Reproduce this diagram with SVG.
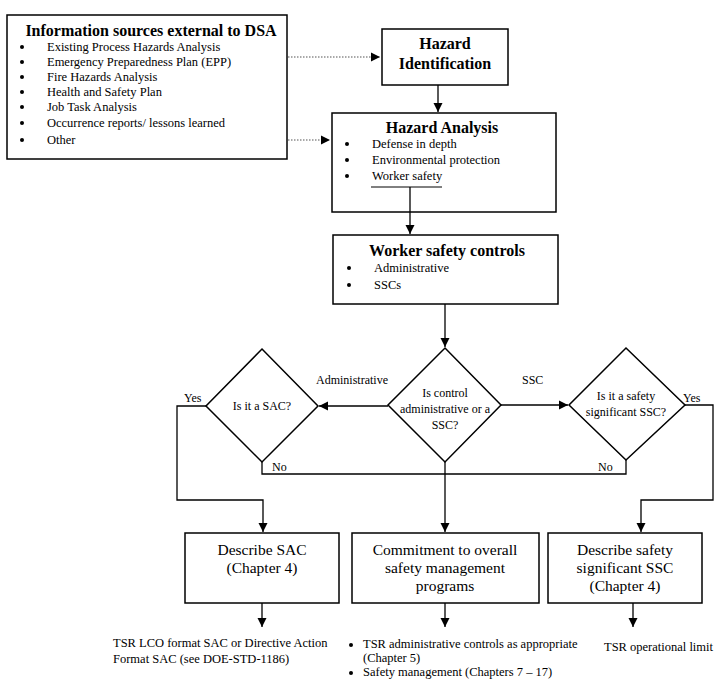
<svg xmlns="http://www.w3.org/2000/svg" width="727" height="681" viewBox="0 0 727 681">
<style>
text{font-family:"Liberation Serif","Times New Roman",serif;fill:#000}
.t{font-size:16px;font-weight:bold}
.b{font-size:12.5px}
.d{font-size:12px}
.m{font-size:15.5px}
.box{fill:#fff;stroke:#000;stroke-width:1.5}
.ln{fill:none;stroke:#000;stroke-width:1.3}
.dot{fill:none;stroke:#555;stroke-width:1.2;stroke-dasharray:1.5 1.5}
.bu{fill:#000}
</style>
<defs>
<marker id="ah" markerWidth="10" markerHeight="10" refX="9" refY="5" orient="auto" markerUnits="userSpaceOnUse">
<path d="M0,0.5 L9,5 L0,9.5 Z" fill="#000"/>
</marker>
</defs>
<rect width="727" height="681" fill="#fff"/>

<g id="info">
<rect class="box" x="7" y="15" width="280" height="144"/>
<text class="t" x="151" y="36" text-anchor="middle">Information sources external to DSA</text>
<g class="bu">
<circle cx="22" cy="47" r="2"/><circle cx="22" cy="62" r="2"/><circle cx="22" cy="77" r="2"/>
<circle cx="22" cy="92" r="2"/><circle cx="22" cy="107" r="2"/><circle cx="22" cy="123" r="2"/>
<circle cx="22" cy="140" r="2"/>
</g>
<g class="b">
<text x="47" y="51">Existing Process Hazards Analysis</text>
<text x="47" y="66">Emergency Preparedness Plan (EPP)</text>
<text x="47" y="81">Fire Hazards Analysis</text>
<text x="47" y="96">Health and Safety Plan</text>
<text x="47" y="111">Job Task Analysis</text>
<text x="47" y="127">Occurrence reports/ lessons learned</text>
<text x="47" y="144">Other</text>
</g>
</g>

<g id="hazid">
<rect class="box" x="382" y="29" width="126" height="56"/>
<text class="t" x="445" y="49" text-anchor="middle">Hazard</text>
<text class="t" x="445" y="69" text-anchor="middle">Identification</text>
</g>

<g id="hazan">
<rect class="box" x="332" y="113" width="224" height="99"/>
<text class="t" x="442" y="133" text-anchor="middle">Hazard Analysis</text>
<g class="bu">
<circle cx="347" cy="144" r="2"/><circle cx="347" cy="160" r="2"/><circle cx="347" cy="176" r="2"/>
</g>
<g class="b">
<text x="372" y="148">Defense in depth</text>
<text x="372" y="164">Environmental protection</text>
<text x="372" y="180">Worker safety</text>
</g>
<line x1="371" y1="187" x2="442" y2="187" stroke="#000" stroke-width="1"/>
</g>

<g id="wsc">
<rect class="box" x="333" y="235" width="225" height="69"/>
<text class="t" x="447" y="256" text-anchor="middle">Worker safety controls</text>
<g class="bu"><circle cx="349" cy="268" r="2"/><circle cx="349" cy="285" r="2"/></g>
<g class="b">
<text x="374" y="272">Administrative</text>
<text x="374" y="289">SSCs</text>
</g>
</g>

<g id="dctl">
<polygon class="box" points="445,348 501,405 445,462 388,405" stroke-width="1"/>
<g class="d" text-anchor="middle">
<text x="445" y="397">Is control</text>
<text x="445" y="413">administrative or a</text>
<text x="445" y="429">SSC?</text>
</g>
</g>

<g id="dsac">
<polygon class="box" points="262,349 318,406 262,462 206,406" stroke-width="1"/>
<text class="d" x="262" y="410" text-anchor="middle">Is it a SAC?</text>
</g>

<g id="dssc">
<polygon class="box" points="626,348 685,405 626,460 569,405" stroke-width="1"/>
<g class="d" text-anchor="middle">
<text x="626" y="400">Is it a safety</text>
<text x="626" y="416">significant SSC?</text>
</g>
</g>

<g id="bsac">
<rect class="box" x="185" y="533" width="154" height="70"/>
<g class="m" text-anchor="middle">
<text x="262" y="555">Describe SAC</text>
<text x="262" y="573">(Chapter 4)</text>
</g>
</g>

<g id="bcom">
<rect class="box" x="352" y="533" width="187" height="70"/>
<g class="m" text-anchor="middle">
<text x="445" y="555">Commitment to overall</text>
<text x="445" y="573">safety management</text>
<text x="445" y="591">programs</text>
</g>
</g>

<g id="bssc">
<rect class="box" x="548" y="533" width="154" height="70"/>
<g class="m" text-anchor="middle">
<text x="625" y="555">Describe safety</text>
<text x="625" y="573">significant SSC</text>
<text x="625" y="591">(Chapter 4)</text>
</g>
</g>

<g id="out1" class="b">
<text x="113" y="647">TSR LCO format SAC or Directive Action</text>
<text x="113" y="663">Format SAC (see DOE-STD-1186)</text>
</g>
<g id="out2">
<g class="bu"><circle cx="351" cy="645" r="2"/><circle cx="351" cy="673" r="2"/></g>
<g class="b">
<text x="363" y="648">TSR administrative controls as appropriate</text>
<text x="363" y="662">(Chapter 5)</text>
<text x="363" y="676">Safety management (Chapters 7 – 17)</text>
</g>
</g>
<g id="out3" class="b">
<text x="604" y="651">TSR operational limit</text>
</g>

<g id="connectors">
<line class="dot" x1="288" y1="57" x2="380" y2="57" marker-end="url(#ah)"/>
<line class="dot" x1="288" y1="140" x2="330" y2="140" marker-end="url(#ah)"/>
<line class="ln" x1="438" y1="85" x2="438" y2="112" marker-end="url(#ah)"/>
<line class="ln" x1="410" y1="187" x2="410" y2="234" marker-end="url(#ah)"/>
<line class="ln" x1="445" y1="304" x2="445" y2="347" marker-end="url(#ah)"/>
<line class="ln" x1="388" y1="406" x2="319" y2="406" marker-end="url(#ah)"/>
<line class="ln" x1="501" y1="405" x2="568" y2="405" marker-end="url(#ah)"/>
<polyline class="ln" points="206,406 177,406 177,500 263,500 263,532" marker-end="url(#ah)"/>
<polyline class="ln" points="262,462 262,474 626,474 626,460"/>
<line class="ln" x1="445" y1="462" x2="445" y2="532" marker-end="url(#ah)"/>
<polyline class="ln" points="685,405 713,405 713,500 641,500 641,532" marker-end="url(#ah)"/>
<line class="ln" x1="262" y1="603" x2="262" y2="627" marker-end="url(#ah)"/>
<line class="ln" x1="445" y1="603" x2="445" y2="627" marker-end="url(#ah)"/>
<line class="ln" x1="633" y1="603" x2="633" y2="627" marker-end="url(#ah)"/>
</g>

<g id="labels" class="d">
<text x="316" y="384">Administrative</text>
<text x="522" y="384">SSC</text>
<text x="184" y="402">Yes</text>
<text x="683" y="402">Yes</text>
<text x="272" y="471">No</text>
<text x="598" y="471">No</text>
</g>
</svg>
